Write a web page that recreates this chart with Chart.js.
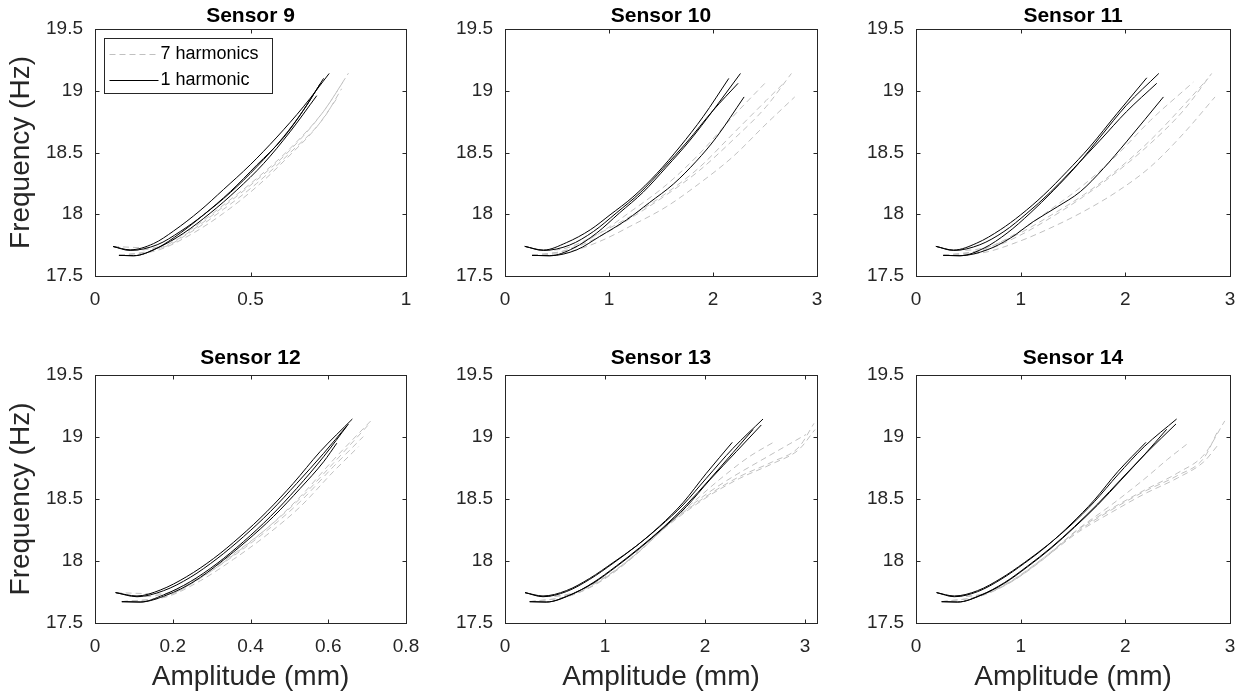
<!DOCTYPE html>
<html>
<head>
<meta charset="utf-8">
<script src="https://cdn.jsdelivr.net/npm/chart.js@4.4.1/dist/chart.umd.min.js"></script>
<style>
  html, body { margin: 0; padding: 0; background: #fff; }
  body { width: 1246px; height: 700px; position: relative; overflow: hidden; }
  canvas { position: absolute; }
</style>
</head>
<body>
<script>
// ---- data ----
const sensorTitles = ['Sensor 9', 'Sensor 10', 'Sensor 11', 'Sensor 12', 'Sensor 13', 'Sensor 14'];
const xMaxes = [1, 3, 3, 0.8, 3.12, 3];
const xTickValues = [[0, 0.5, 1], [0, 1, 2, 3], [0, 1, 2, 3], [0, 0.2, 0.4, 0.6, 0.8], [0, 1, 2, 3], [0, 1, 2, 3]];
const yTickValues = [17.5, 18, 18.5, 19, 19.5];
const legendLabels = ['7 harmonics', '1 harmonic'];

// each curve: [amplitude (mm), frequency (Hz)] pairs
const sensor9Solid = [
  [[0.058,17.739],[0.113,17.712],[0.188,17.762],[0.253,17.865],[0.338,18.03],[0.413,18.2],[0.499,18.4],[0.585,18.625],[0.67,18.87],[0.753,19.14]],
  [[0.077,17.667],[0.124,17.664],[0.2,17.726],[0.274,17.847],[0.349,17.995],[0.435,18.183],[0.52,18.398],[0.606,18.62],[0.672,18.85],[0.735,19.1]],
  [[0.058,17.739],[0.113,17.707],[0.2,17.753],[0.274,17.86],[0.349,17.995],[0.435,18.175],[0.52,18.384],[0.606,18.626],[0.67,18.841],[0.724,19.056]],
  [[0.077,17.667],[0.124,17.664],[0.2,17.726],[0.285,17.847],[0.37,18.008],[0.456,18.196],[0.542,18.41],[0.627,18.667],[0.713,18.96]]
];
const sensor9Dashed = [
  [[0.077,17.667],[0.2,17.718],[0.306,17.86],[0.413,18.062],[0.52,18.277],[0.627,18.519],[0.734,18.83],[0.815,19.142]],
  [[0.058,17.739],[0.113,17.707],[0.2,17.734],[0.306,17.874],[0.413,18.075],[0.52,18.29],[0.627,18.532],[0.734,18.83],[0.804,19.097]],
  [[0.077,17.667],[0.2,17.707],[0.306,17.833],[0.413,18.008],[0.52,18.223],[0.627,18.479],[0.713,18.707],[0.777,18.935]],
  [[0.058,17.739],[0.2,17.726],[0.306,17.852],[0.413,18.04],[0.52,18.25],[0.627,18.497],[0.734,18.774],[0.793,19.016]]
];
const sensor10Solid = [
  [[0.19,17.74],[0.37,17.71],[0.59,17.77],[0.82,17.874],[1.01,17.995],[1.23,18.14],[1.46,18.33],[1.68,18.545],[1.905,18.79],[2.152,19.1]],
  [[0.26,17.667],[0.43,17.664],[0.66,17.726],[0.88,17.847],[1.1,18.01],[1.33,18.18],[1.55,18.38],[1.78,18.6],[2.0,18.84],[2.264,19.14]],
  [[0.19,17.74],[0.37,17.707],[0.62,17.75],[0.85,17.86],[1.07,18.01],[1.3,18.175],[1.52,18.37],[1.75,18.585],[2.0,18.84],[2.241,19.06]],
  [[0.26,17.667],[0.43,17.664],[0.69,17.712],[0.91,17.82],[1.17,17.955],[1.39,18.095],[1.62,18.245],[1.84,18.43],[2.03,18.62],[2.299,18.95]]
];
const sensor10Dashed = [
  [[0.26,17.667],[0.59,17.71],[0.91,17.847],[1.23,18.035],[1.55,18.237],[1.87,18.49],[2.19,18.79],[2.51,19.07]],
  [[0.26,17.667],[0.59,17.707],[0.91,17.82],[1.23,17.98],[1.55,18.156],[1.87,18.355],[2.19,18.6],[2.51,18.87],[2.754,19.14]],
  [[0.19,17.74],[0.37,17.707],[0.59,17.726],[0.91,17.847],[1.23,17.995],[1.55,18.17],[1.87,18.38],[2.19,18.65],[2.51,18.92],[2.69,19.07]],
  [[0.26,17.667],[0.59,17.69],[0.91,17.78],[1.23,17.914],[1.55,18.06],[1.87,18.25],[2.19,18.465],[2.51,18.73],[2.786,18.95]]
];
const sensor11Solid = [
  [[0.19,17.74],[0.36,17.71],[0.58,17.766],[0.805,17.874],[1.0,17.995],[1.22,18.156],[1.44,18.344],[1.66,18.545],[1.92,18.815],[2.205,19.105]],
  [[0.26,17.667],[0.42,17.664],[0.65,17.726],[0.87,17.847],[1.09,18.008],[1.31,18.19],[1.54,18.398],[1.76,18.626],[2.01,18.882],[2.32,19.14]],
  [[0.19,17.74],[0.36,17.707],[0.61,17.753],[0.84,17.86],[1.06,18.008],[1.28,18.175],[1.505,18.37],[1.76,18.6],[2.01,18.83],[2.3,19.06]],
  [[0.26,17.667],[0.42,17.664],[0.68,17.712],[0.9,17.806],[1.12,17.94],[1.35,18.06],[1.57,18.183],[1.79,18.37],[2.01,18.586],[2.364,18.95]]
];
const sensor11Dashed = [
  [[0.26,17.667],[0.65,17.718],[0.96,17.847],[1.28,18.035],[1.6,18.237],[1.92,18.48],[2.24,18.76],[2.65,19.07]],
  [[0.26,17.667],[0.65,17.707],[0.96,17.815],[1.28,17.968],[1.6,18.143],[1.92,18.344],[2.24,18.573],[2.555,18.84],[2.825,19.14]],
  [[0.19,17.74],[0.36,17.707],[0.65,17.726],[0.96,17.833],[1.28,17.987],[1.6,18.156],[1.92,18.358],[2.24,18.6],[2.555,18.88],[2.79,19.1]],
  [[0.26,17.667],[0.65,17.69],[0.96,17.772],[1.28,17.887],[1.6,18.022],[1.92,18.183],[2.24,18.384],[2.555,18.653],[2.857,18.95]]
];
const sensor12Solid = [
  [[0.053,17.745],[0.108,17.718],[0.168,17.766],[0.236,17.874],[0.305,18.02],[0.373,18.196],[0.442,18.398],[0.51,18.626],[0.579,18.882],[0.662,19.145]],
  [[0.069,17.672],[0.116,17.669],[0.176,17.726],[0.245,17.833],[0.314,17.98],[0.382,18.156],[0.451,18.358],[0.519,18.586],[0.588,18.841],[0.652,19.105]],
  [[0.053,17.745],[0.108,17.712],[0.176,17.76],[0.245,17.868],[0.314,18.019],[0.382,18.196],[0.451,18.398],[0.519,18.626],[0.588,18.868],[0.648,19.09]],
  [[0.069,17.672],[0.116,17.669],[0.185,17.726],[0.254,17.833],[0.322,17.987],[0.391,18.164],[0.459,18.358],[0.528,18.586],[0.588,18.8],[0.622,18.95]]
];
const sensor12Dashed = [
  [[0.069,17.672],[0.185,17.718],[0.271,17.86],[0.356,18.048],[0.442,18.263],[0.528,18.519],[0.613,18.815],[0.714,19.145]],
  [[0.053,17.745],[0.108,17.712],[0.185,17.74],[0.271,17.874],[0.356,18.056],[0.442,18.263],[0.528,18.505],[0.613,18.788],[0.703,19.097]],
  [[0.069,17.672],[0.185,17.712],[0.271,17.841],[0.356,18.013],[0.442,18.21],[0.528,18.438],[0.613,18.72],[0.678,18.922]],
  [[0.053,17.745],[0.185,17.734],[0.271,17.866],[0.356,18.04],[0.442,18.245],[0.528,18.479],[0.613,18.76],[0.69,19.003]]
];
const sensor13Solid = [
  [[0.2,17.745],[0.38,17.718],[0.613,17.761],[0.847,17.86],[1.08,17.987],[1.313,18.121],[1.547,18.277],[1.78,18.452],[2.013,18.667],[2.28,18.909],[2.58,19.145]],
  [[0.247,17.672],[0.413,17.669],[0.647,17.726],[0.88,17.82],[1.113,17.954],[1.347,18.102],[1.58,18.263],[1.813,18.438],[2.047,18.653],[2.313,18.882],[2.563,19.097]],
  [[0.2,17.745],[0.38,17.712],[0.613,17.753],[0.847,17.852],[1.08,17.981],[1.313,18.121],[1.547,18.282],[1.78,18.47],[2.013,18.707],[2.273,18.957]],
  [[0.247,17.672],[0.413,17.669],[0.647,17.723],[0.88,17.825],[1.113,17.96],[1.347,18.108],[1.58,18.269],[1.813,18.452],[2.047,18.659],[2.28,18.874],[2.48,19.06]]
];
const sensor13Dashed = [
  [[0.247,17.672],[0.647,17.72],[0.947,17.835],[1.28,18.04],[1.446,18.17],[1.613,18.285],[2.01,18.52],[2.343,18.68],[2.675,18.8],[2.94,18.92],[3.09,19.11]],
  [[0.2,17.745],[0.38,17.715],[0.647,17.735],[0.947,17.845],[1.28,18.035],[1.613,18.275],[2.01,18.51],[2.343,18.665],[2.675,18.785],[2.94,18.9],[3.1,19.06]],
  [[0.247,17.672],[0.647,17.718],[0.947,17.83],[1.28,18.03],[1.613,18.28],[1.947,18.52],[2.18,18.68],[2.44,18.84],[2.69,18.96]],
  [[0.2,17.745],[0.38,17.714],[0.647,17.73],[0.947,17.84],[1.28,18.035],[1.613,18.28],[1.947,18.5],[2.21,18.645],[2.6,18.83],[3.01,19.02]]
];
const sensor14Solid = [
  [[0.197,17.745],[0.366,17.718],[0.589,17.761],[0.812,17.86],[1.035,17.987],[1.258,18.129],[1.481,18.29],[1.704,18.478],[1.927,18.694],[2.18,18.922],[2.49,19.145]],
  [[0.245,17.672],[0.398,17.669],[0.621,17.726],[0.844,17.825],[1.067,17.96],[1.29,18.108],[1.513,18.277],[1.736,18.46],[1.959,18.659],[2.213,18.882],[2.484,19.105]],
  [[0.197,17.745],[0.366,17.712],[0.589,17.753],[0.812,17.852],[1.035,17.981],[1.258,18.126],[1.481,18.298],[1.704,18.492],[1.927,18.72],[2.197,18.957]],
  [[0.245,17.672],[0.398,17.669],[0.621,17.723],[0.844,17.82],[1.067,17.954],[1.29,18.102],[1.513,18.271],[1.736,18.452],[1.959,18.653],[2.18,18.855],[2.395,19.062]]
];
const sensor14Dashed = [
  [[0.245,17.672],[0.621,17.718],[0.908,17.83],[1.226,18.02],[1.545,18.25],[1.863,18.42],[2.18,18.57],[2.5,18.71],[2.755,18.86],[2.95,19.13]],
  [[0.197,17.745],[0.366,17.714],[0.621,17.73],[0.908,17.84],[1.226,18.03],[1.545,18.24],[1.863,18.41],[2.18,18.56],[2.5,18.69],[2.75,18.83],[2.89,19.06]],
  [[0.245,17.672],[0.621,17.72],[0.908,17.835],[1.226,18.03],[1.545,18.255],[1.863,18.45],[2.18,18.66],[2.404,18.82],[2.615,18.96]],
  [[0.197,17.745],[0.366,17.714],[0.621,17.728],[0.908,17.832],[1.226,18.022],[1.545,18.23],[1.863,18.39],[2.18,18.54],[2.5,18.67],[2.75,18.8],[2.88,18.93]]
];

const solidCurves = [sensor9Solid, sensor10Solid, sensor11Solid, sensor12Solid, sensor13Solid, sensor14Solid];
const dashedCurves = [sensor9Dashed, sensor10Dashed, sensor11Dashed, sensor12Dashed, sensor13Dashed, sensor14Dashed];

// ---- styling / layout ----
const FONT = "'Liberation Sans', Arial, Helvetica, sans-serif";
const AXIS_COLOR = '#262626';
const GRAY = 'rgb(192,192,192)';
const DASH = [6, 4];
const colLeft = [95, 505, 916];
const colRight = [406, 817, 1230];
const rowTop = [29, 375];
const rowBottom = [276, 623];

// MATLAB-like box with inward ticks on all four sides
const axesBox = {
  id: 'axesBox',
  afterDraw(chart) {
    const { ctx, chartArea: a, scales: { x, y } } = chart;
    const L = Math.round(a.left) + 0.5, R = Math.round(a.right) + 0.5;
    const T = Math.round(a.top) + 0.5, B = Math.round(a.bottom) + 0.5;
    ctx.save();
    ctx.strokeStyle = AXIS_COLOR;
    ctx.lineWidth = 1;
    ctx.strokeRect(L, T, R - L, B - T);
    ctx.beginPath();
    x.ticks.forEach(t => {
      const px = Math.round(x.getPixelForValue(t.value)) + 0.5;
      ctx.moveTo(px, B); ctx.lineTo(px, B - 4);
      ctx.moveTo(px, T); ctx.lineTo(px, T + 4);
    });
    y.ticks.forEach(t => {
      const py = Math.round(y.getPixelForValue(t.value)) + 0.5;
      ctx.moveTo(L, py); ctx.lineTo(L + 4, py);
      ctx.moveTo(R, py); ctx.lineTo(R - 4, py);
    });
    ctx.stroke();
    ctx.restore();
  }
};

// boxed legend inside the first panel
const boxLegend = {
  id: 'boxLegend',
  afterDraw(chart, args, opts) {
    if (!opts.display) return;
    const { ctx, chartArea: a } = chart;
    const x0 = Math.round(a.left) + 9.5, y0 = Math.round(a.top) + 9.5;
    ctx.save();
    ctx.fillStyle = '#fff';
    ctx.fillRect(x0, y0, 168, 55);
    ctx.strokeStyle = AXIS_COLOR;
    ctx.lineWidth = 1;
    ctx.strokeRect(x0, y0, 168, 55);
    const styles = [{ color: GRAY, dash: DASH }, { color: '#000', dash: [] }];
    legendLabels.forEach((label, k) => {
      const yy = y0 + 16 + k * 26;
      ctx.strokeStyle = styles[k].color;
      ctx.setLineDash(styles[k].dash);
      ctx.beginPath();
      ctx.moveTo(x0 + 5, yy);
      ctx.lineTo(x0 + 54, yy);
      ctx.stroke();
      ctx.setLineDash([]);
      ctx.fillStyle = '#000';
      ctx.font = '18px ' + FONT;
      ctx.textBaseline = 'middle';
      ctx.fillText(label, x0 + 56, yy);
    });
    ctx.restore();
  }
};

const toPoints = curve => curve.map(p => ({ x: p[0], y: p[1] }));

sensorTitles.forEach((title, i) => {
  const col = i % 3, row = Math.floor(i / 3);
  const left = colLeft[col] - 95, top = rowTop[row] - 29;
  const width = colRight[col] + 14 - left;
  const height = rowBottom[row] + 77 - top;

  const canvas = document.createElement('canvas');
  canvas.width = width; canvas.height = height;
  canvas.style.left = left + 'px'; canvas.style.top = top + 'px';
  canvas.style.width = width + 'px'; canvas.style.height = height + 'px';
  document.body.appendChild(canvas);

  // solid (1 harmonic) first so they are drawn on top of the gray dashed ones
  const datasets = [];
  solidCurves[i].forEach(c => datasets.push({
    data: toPoints(c), showLine: true, borderColor: '#000', borderWidth: 1,
    pointRadius: 0, cubicInterpolationMode: 'monotone'
  }));
  dashedCurves[i].forEach(c => datasets.push({
    data: toPoints(c), showLine: true, borderColor: GRAY, borderWidth: 1, borderDash: DASH,
    pointRadius: 0, cubicInterpolationMode: 'monotone'
  }));

  const titlePadTop = row === 0 ? 3.4 : 0;

  new Chart(canvas, {
    type: 'scatter',
    data: { datasets },
    options: {
      responsive: false,
      animation: false,
      devicePixelRatio: 1,
      layout: { padding: { left: 0, top: 0, right: 14, bottom: 0 } },
      plugins: {
        legend: { display: false },
        tooltip: { enabled: false },
        title: {
          display: true, text: title, color: '#000', fullSize: false,
          font: { family: FONT, size: 21, weight: 'bold' },
          padding: { top: titlePadTop, bottom: 3.8 - titlePadTop }
        },
        boxLegend: { display: i === 0 }
      },
      scales: {
        x: {
          type: 'linear', min: 0, max: xMaxes[i],
          grid: { display: false, drawTicks: false },
          border: { display: false },
          afterBuildTicks: s => { s.ticks = xTickValues[i].map(v => ({ value: v })); },
          afterFit: s => { s.height = 77; s.paddingLeft = 0; s.paddingRight = 0; },
          ticks: {
            color: AXIS_COLOR, padding: 12, maxRotation: 0, autoSkip: false,
            font: { family: FONT, size: 19 },
            callback: v => String(v)
          },
          title: {
            display: row === 1, text: 'Amplitude (mm)', color: AXIS_COLOR,
            font: { family: FONT, size: 28 }, padding: { top: 0, bottom: 6 }
          }
        },
        y: {
          type: 'linear', min: 17.5, max: 19.5,
          grid: { display: false, drawTicks: false },
          border: { display: false },
          afterBuildTicks: s => { s.ticks = yTickValues.map(v => ({ value: v })); },
          afterFit: s => { s.width = 95; s.paddingTop = 0; s.paddingBottom = 0; },
          ticks: {
            color: AXIS_COLOR, padding: 12, autoSkip: false,
            font: { family: FONT, size: 19 },
            callback: v => String(v)
          },
          title: {
            display: col === 0, text: 'Frequency (Hz)', color: AXIS_COLOR,
            font: { family: FONT, size: 28 }, padding: { top: 4, bottom: 0 }
          }
        }
      }
    },
    plugins: [axesBox, boxLegend]
  });
});
</script>
</body>
</html>
